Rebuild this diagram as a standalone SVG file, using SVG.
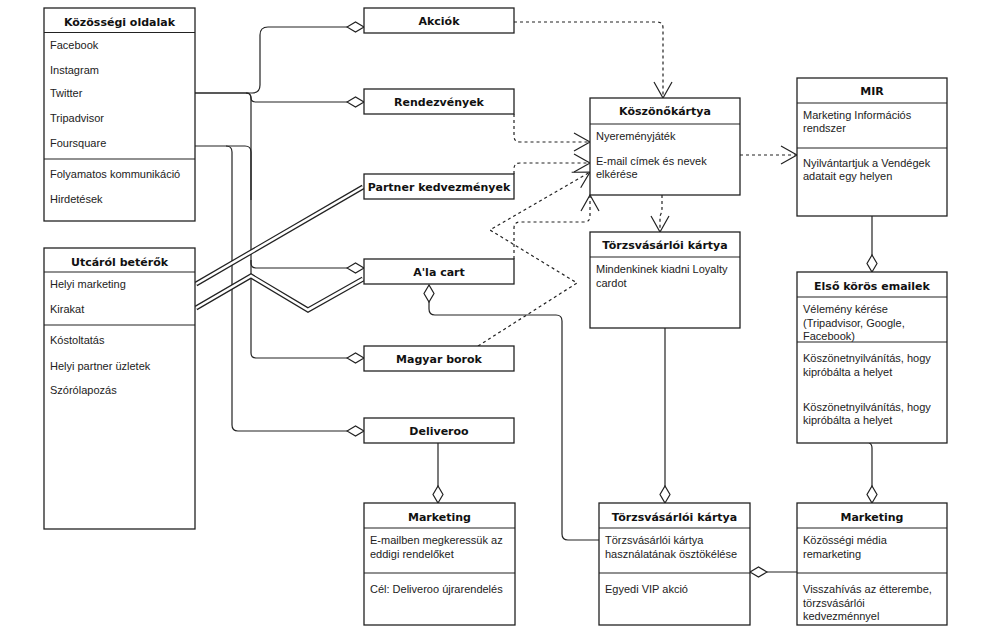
<svg xmlns="http://www.w3.org/2000/svg" width="1000" height="636" viewBox="0 0 1000 636">
<style>
.box{fill:#fff;stroke:#222;stroke-width:1.3}
.sep{stroke:#222;stroke-width:1.2}
.h{font-family:"DejaVu Sans",Verdana,sans-serif;font-weight:bold;font-size:11px;fill:#111;text-anchor:middle}
.t{font-family:"Liberation Sans",Arial,sans-serif;font-size:11px;fill:#222}
.ln{fill:none;stroke:#222;stroke-width:1.2}
.ds{fill:none;stroke:#222;stroke-width:1.2;stroke-dasharray:3 3}
.dbl-o{fill:none;stroke:#222;stroke-width:5;stroke-linejoin:miter}
.dbl-i{fill:none;stroke:#fff;stroke-width:2.6;stroke-linejoin:miter}
</style>
<defs>
<marker id="dia" markerUnits="userSpaceOnUse" markerWidth="20" markerHeight="14" viewBox="-18 -7 20 14" refX="0" refY="0" orient="auto">
<path d="M0,0 L-8.5,-5 L-17,0 L-8.5,5 Z" fill="#fff" stroke="#222" stroke-width="1.2"/>
</marker>
<marker id="open" markerUnits="userSpaceOnUse" markerWidth="20" markerHeight="22" viewBox="-18 -11 20 22" refX="0" refY="0" orient="auto">
<path d="M-16,-9 L0,0 L-16,9" fill="none" stroke="#222" stroke-width="1.2"/>
</marker>
</defs>

<g id="connectors">
<!-- solid aggregation lines from Közösségi oldalak -->
<path class="ln" d="M195,93 H252 Q260,93 260,85 V35 Q260,27 268,27 H364" marker-end="url(#dia)"/>
<path class="ln" d="M195,93 H246 Q251,93 251,98 Q251,102 256,102 H364" marker-end="url(#dia)"/>
<path class="ln" d="M246,93 Q251,93 251,98 V263 Q251,268 256,268 H364" marker-end="url(#dia)"/>
<path class="ln" d="M251,260 V353 Q251,358 256,358 H364" marker-end="url(#dia)"/>
<path class="ln" d="M195,146 H226 Q232,146 232,152 V425 Q232,431 238,431 H364" marker-end="url(#dia)"/>
<path class="ln" d="M226,146 H245 Q251,146 251,152 V200"/>
<!-- double lines -->
<path class="dbl-o" d="M196,284 L363,187"/>
<path class="dbl-i" d="M196,284 L363,187"/>
<path class="dbl-o" d="M196,308 L251,276 L308,310 L363,279"/>
<path class="dbl-i" d="M196,308 L251,276 L308,310 L363,279"/>
<!-- dashed dependencies -->
<path class="ds" d="M514,22 H657 Q663,22 663,28 V98" marker-end="url(#open)"/>
<path class="ds" d="M514,114 V136 Q514,142 520,142 H590" marker-end="url(#open)"/>
<path class="ds" d="M514,174 V169 Q514,163 520,163 H590" marker-end="url(#open)"/>
<path class="ds" d="M478,346 L577,283 L490,230 L590,172" marker-end="url(#open)"/>
<path class="ds" d="M514,259 V228 Q514,222 520,222 H584 Q590,222 590,216 V195" marker-end="url(#open)"/>
<path class="ds" d="M740,155 H797" marker-end="url(#open)"/>
<path class="ds" d="M662,195 V208 Q662,212 660,216 V232" marker-end="url(#open)"/>
<!-- solid aggregations lower part -->
<path class="ln" d="M599,540 H568 Q562,540 562,534 V321 Q562,315 556,315 H435 Q429,315 429,309 V285" marker-end="url(#dia)"/>
<path class="ln" d="M438,443 V503" marker-end="url(#dia)"/>
<path class="ln" d="M665,328 V503" marker-end="url(#dia)"/>
<path class="ln" d="M872,216 V272" marker-end="url(#dia)"/>
<path class="ln" d="M869,443 Q872,444 872,448 V503" marker-end="url(#dia)"/>
<path class="ln" d="M797,572 H750" marker-end="url(#dia)"/>
</g>

<g id="kozossegi">
<rect class="box" x="44" y="8" width="151" height="213"/>
<line class="sep" x1="44" y1="32.5" x2="195" y2="32.5"/>
<line class="sep" x1="44" y1="159" x2="195" y2="159"/>
<text class="h" x="119.5" y="26">Közösségi oldalak</text>
<text class="t" x="50" y="49">Facebook</text>
<text class="t" x="50" y="74">Instagram</text>
<text class="t" x="50" y="97">Twitter</text>
<text class="t" x="50" y="122">Tripadvisor</text>
<text class="t" x="50" y="147">Foursquare</text>
<text class="t" x="50" y="178">Folyamatos kommunikáció</text>
<text class="t" x="50" y="203">Hirdetések</text>
</g>

<g id="utcarol">
<rect class="box" x="44" y="248" width="151" height="281"/>
<line class="sep" x1="44" y1="272" x2="195" y2="272"/>
<line class="sep" x1="44" y1="325" x2="195" y2="325"/>
<text class="h" x="119.5" y="266">Utcáról betérők</text>
<text class="t" x="50" y="288">Helyi marketing</text>
<text class="t" x="50" y="313">Kirakat</text>
<text class="t" x="50" y="344">Kóstoltatás</text>
<text class="t" x="50" y="370">Helyi partner üzletek</text>
<text class="t" x="50" y="394">Szórólapozás</text>
</g>

<g id="akciok">
<rect class="box" x="364" y="8" width="150" height="25"/>
<text class="h" x="439" y="25">Akciók</text>
</g>
<g id="rendezvenyek">
<rect class="box" x="364" y="89" width="150" height="25"/>
<text class="h" x="439" y="106">Rendezvények</text>
</g>
<g id="partner">
<rect class="box" x="364" y="174" width="150" height="25"/>
<text class="h" x="439" y="191">Partner kedvezmények</text>
</g>
<g id="alacart">
<rect class="box" x="364" y="259" width="150" height="25"/>
<text class="h" x="439" y="276">A'la cart</text>
</g>
<g id="magyarborok">
<rect class="box" x="364" y="346" width="150" height="25"/>
<text class="h" x="439" y="363">Magyar borok</text>
</g>
<g id="deliveroo">
<rect class="box" x="364" y="418" width="150" height="25"/>
<text class="h" x="439" y="435">Deliveroo</text>
</g>

<g id="koszonokartya">
<rect class="box" x="590" y="98" width="150" height="97"/>
<line class="sep" x1="590" y1="124" x2="740" y2="124"/>
<text class="h" x="665" y="115">Köszönőkártya</text>
<text class="t" x="596" y="140">Nyereményjáték</text>
<text class="t" x="596" y="165">E-mail címek és nevek</text>
<text class="t" x="596" y="178">elkérése</text>
</g>

<g id="mir">
<rect class="box" x="797" y="78" width="150" height="138"/>
<line class="sep" x1="797" y1="103" x2="947" y2="103"/>
<line class="sep" x1="797" y1="148" x2="947" y2="148"/>
<text class="h" x="872" y="95">MIR</text>
<text class="t" x="803" y="119">Marketing Információs</text>
<text class="t" x="803" y="132">rendszer</text>
<text class="t" x="803" y="167">Nyilvántartjuk a Vendégek</text>
<text class="t" x="803" y="180">adatait egy helyen</text>
</g>

<g id="torzs1">
<rect class="box" x="590" y="232" width="150" height="96"/>
<line class="sep" x1="590" y1="257" x2="740" y2="257"/>
<text class="h" x="665" y="249">Törzsvásárlói kártya</text>
<text class="t" x="596" y="273">Mindenkinek kiadni Loyalty</text>
<text class="t" x="596" y="287">cardot</text>
</g>

<g id="elso">
<rect class="box" x="797" y="272" width="150" height="171"/>
<line class="sep" x1="797" y1="297" x2="947" y2="297"/>
<line class="sep" x1="797" y1="342" x2="947" y2="342"/>
<text class="h" x="872" y="290">Első körös emailek</text>
<text class="t" x="803" y="313">Vélemény kérése</text>
<text class="t" x="803" y="327">(Tripadvisor, Google,</text>
<text class="t" x="803" y="340">Facebook)</text>
<text class="t" x="803" y="362">Köszönetnyilvánítás, hogy</text>
<text class="t" x="803" y="376">kipróbálta a helyet</text>
<text class="t" x="803" y="411">Köszönetnyilvánítás, hogy</text>
<text class="t" x="803" y="424">kipróbálta a helyet</text>
</g>

<g id="marketing1">
<rect class="box" x="364" y="503" width="151" height="122"/>
<line class="sep" x1="364" y1="528" x2="515" y2="528"/>
<line class="sep" x1="364" y1="573" x2="515" y2="573"/>
<text class="h" x="439.5" y="521">Marketing</text>
<text class="t" x="370" y="544">E-mailben megkeressük az</text>
<text class="t" x="370" y="558">eddigi rendelőket</text>
<text class="t" x="370" y="593">Cél: Deliveroo újrarendelés</text>
</g>

<g id="torzs2">
<rect class="box" x="599" y="503" width="151" height="122"/>
<line class="sep" x1="599" y1="528" x2="750" y2="528"/>
<line class="sep" x1="599" y1="573" x2="750" y2="573"/>
<text class="h" x="674.5" y="521">Törzsvásárlói kártya</text>
<text class="t" x="605" y="544">Törzsvásárlói kártya</text>
<text class="t" x="605" y="558">használatának ösztökélése</text>
<text class="t" x="605" y="593">Egyedi VIP akció</text>
</g>

<g id="marketing2">
<rect class="box" x="797" y="503" width="150" height="122"/>
<line class="sep" x1="797" y1="528" x2="947" y2="528"/>
<line class="sep" x1="797" y1="573" x2="947" y2="573"/>
<text class="h" x="872" y="521">Marketing</text>
<text class="t" x="803" y="544">Közösségi média</text>
<text class="t" x="803" y="558">remarketing</text>
<text class="t" x="803" y="593">Visszahívás az étterembe,</text>
<text class="t" x="803" y="607">törzsvásárlói</text>
<text class="t" x="803" y="620">kedvezménnyel</text>
</g>
</svg>
